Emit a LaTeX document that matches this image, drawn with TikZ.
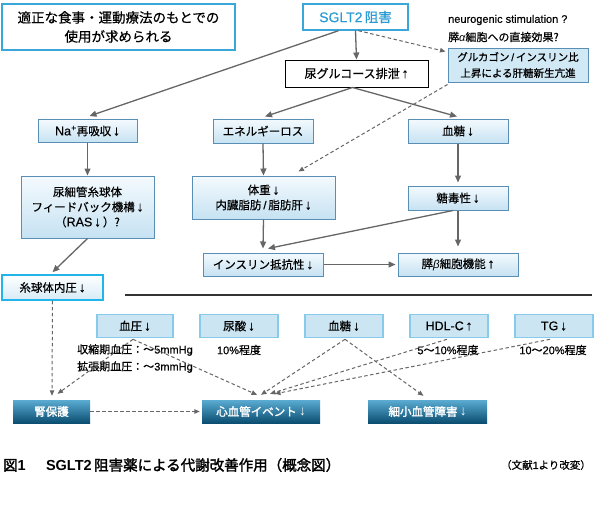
\documentclass[tikz,border=0pt]{standalone}
\usepackage{fontspec}
\setmainfont{Noto Sans CJK JP}[UprightFeatures={FakeBold=0.5}, BoldFont={Noto Sans CJK JP}, BoldFeatures={FakeBold=2}]
\newfontfamily\lat{Liberation Sans}[UprightFeatures={FakeBold=0.4}]
\newfontfamily\latb{Liberation Sans}[UprightFeatures={FakeBold=1.8}]
\newcommand{\myDn}{\,{\lat\fontsize{13.5}{14}\selectfont ↓}}
\newcommand{\myUp}{\,{\lat\fontsize{13.5}{14}\selectfont ↑}}
\usetikzlibrary{arrows.meta,calc}
\definecolor{arrowgray}{HTML}{666666}
\definecolor{boxedge}{HTML}{5A8FB5}
\definecolor{boxtop}{HTML}{F4FAFE}
\definecolor{boxbot}{HTML}{C6E2F2}
\definecolor{cyanedge}{HTML}{3AA6DA}
\definecolor{sgltxt}{HTML}{2B9BD3}
\definecolor{flatfill}{HTML}{CBE5F3}
\definecolor{flatedge}{HTML}{86CBEB}
\definecolor{darktop}{HTML}{5AABD2}
\definecolor{darkbot}{HTML}{0B4E72}
\definecolor{glomedge}{HTML}{22B5EC}
\tikzset{
  lbox/.style={draw=boxedge, line width=1pt, top color=boxtop, bottom color=boxbot,
    font=\fontsize{11.5}{15}\selectfont, align=center, inner sep=1pt},
  flatbox/.style={draw=flatedge, line width=1.6pt, fill=flatfill,
    font=\fontsize{11.5}{14}\selectfont, align=center, inner sep=1pt,
    minimum width=76pt, minimum height=23pt},
  darkbox/.style={draw=none, top color=darktop, bottom color=darkbot, text=white,
    font=\fontsize{11.5}{14}\selectfont\bfseries, align=center, inner sep=1pt,
    minimum height=23pt},
  plain/.style={font=\fontsize{11}{14}\selectfont, inner sep=0pt},
  arr/.style={draw=arrowgray, line width=1.3pt, -{Triangle[length=7pt,width=6pt]}},
  darr/.style={draw=arrowgray, line width=1pt, dash pattern=on 3.5pt off 2.5pt,
    -{Triangle[length=5.5pt,width=4.5pt]}}
}
\begin{document}
\begin{tikzpicture}[x=1pt,y=-1pt]
\useasboundingbox (0,0) rectangle (595,504);
% top row
\node[draw=cyanedge, line width=1.6pt, fill=white, minimum width=233pt, minimum height=46pt,
  align=center, font=\fontsize{13.5}{19}\selectfont, inner sep=0pt]
  (note) at (118.5,27) {適正な食事・運動療法のもとでの\\使用が求められる};
\node[draw=cyanedge, line width=1.4pt, fill=white, minimum width=105pt, minimum height=26pt,
  text=sgltxt, font=\fontsize{13.5}{15}\selectfont, inner sep=0pt]
  (sglt) at (355.5,17) {{\lat\fontsize{14}{15}\selectfont SGLT2}\,阻害};
\node[plain, anchor=west, font=\lat\fontsize{11}{14}\selectfont] (neuro) at (448,20) {neurogenic stimulation ?};
\node[plain, anchor=west] (alpha) at (448,37) {膵{\lat\itshape α}細胞への直接効果?};
\node[draw=boxedge, line width=1pt, fill=boxbot!80!white, minimum width=140pt, minimum height=34pt,
  align=center, font=\fontsize{10.5}{16}\selectfont, inner sep=0pt]
  (gluc) at (518,65) {グルカゴン{\lat\,/\,}インスリン比\\上昇による肝糖新生亢進};
\node[draw=black, line width=1pt, fill=white, minimum width=143pt, minimum height=27pt,
  font=\fontsize{12}{14}\selectfont, inner sep=0pt]
  (urine) at (356.5,73.5) {尿グルコース排泄\myUp};
% second row
\node[lbox, minimum width=99pt, minimum height=23pt] (na) at (87.5,131) {{\lat\fontsize{12.5}{14}\selectfont Na\textsuperscript{+}}再吸収\myDn};
\node[lbox, minimum width=100pt, minimum height=24pt] (energy) at (263,131) {エネルギーロス};
\node[lbox, minimum width=100pt, minimum height=24pt] (bgone) at (458,131) {血糖\myDn};
\node[lbox, minimum width=133pt, minimum height=62pt] (tub) at (87.5,207) {尿細管糸球体\\フィードバック機構\myDn\\（{\lat\fontsize{12.5}{14}\selectfont RAS}\myDn\,）?};
\node[lbox, minimum width=143pt, minimum height=43pt] (weight) at (263.5,197.5) {体重\myDn\\内臓脂肪{\lat\,/\,}脂肪肝\myDn};
\node[lbox, minimum width=100pt, minimum height=24pt] (gtox) at (458,198) {糖毒性\myDn};
\node[lbox, minimum width=120pt, minimum height=23pt] (insres) at (263,264.5) {インスリン抵抗性\myDn};
\node[lbox, minimum width=120pt, minimum height=23pt] (beta) at (458,264.5) {膵{\lat\itshape β}細胞機能\myUp};
\node[lbox, draw=glomedge, line width=1.6pt, top color=white, bottom color=boxbot!70!white,
  minimum width=101pt, minimum height=25pt] (glom) at (52.5,287.5) {糸球体内圧\myDn};
% separator
\coordinate (hl) at (125,295);
\coordinate (hr) at (592,295);
\draw[line width=1.5pt, black!80] (hl) -- (hr);
% bottom row
\node[flatbox] (bp) at (135,326) {血圧\myDn};
\node[flatbox, minimum width=78pt] (ua) at (239,326) {尿酸\myDn};
\node[flatbox, minimum width=78pt] (bgtwo) at (344,326) {血糖\myDn};
\node[flatbox, minimum width=78pt] (hdl) at (449,326) {{\lat\fontsize{12.5}{14}\selectfont HDL-C}\myUp};
\node[flatbox, minimum width=78pt] (tg) at (554,326) {{\lat\fontsize{12.5}{14}\selectfont TG}\myDn};
\node[plain] (sys) at (135,350) {収縮期血圧：～{\lat 5mmHg}};
\node[plain] (dia) at (135,367) {拡張期血圧：～{\lat 3mmHg}};
\node[plain] (uap) at (239,350) {{\lat 10\%}程度};
\node[plain] (hdlp) at (448,350) {{\lat 5}～{\lat 10\%}程度};
\node[plain] (tgp) at (553,350) {{\lat 10}～{\lat 20\%}程度};
\node[darkbox, minimum width=77pt] (renal) at (51.5,411.5) {腎保護};
\node[darkbox, minimum width=118pt] (cv) at (261,411.5) {心血管イベント{\latb\fontsize{13.5}{14}\selectfont\,↓}};
\node[darkbox, minimum width=119pt] (micro) at (427.5,411.5) {細小血管障害{\latb\fontsize{13.5}{14}\selectfont\,↓}};
% caption
\node[anchor=west, inner sep=0pt, font=\fontsize{14.5}{16}\selectfont\bfseries] (cap) at (3,465)
  {図{\latb 1}\hspace{1.4em}{\latb SGLT2}\,阻害薬による代謝改善作用（概念図）};
\node[anchor=east, inner sep=0pt, font=\fontsize{10.5}{12}\selectfont] (src) at (591,465) {（文献{\lat 1}より改変）};
% solid arrows
\draw[arr] ($(sglt.south)+(-17,0)$) -- ($(na.north)+(2,-3)$);
\draw[arr] (sglt.south) -- (urine.north);
\draw[arr] ($(urine.south)+(-4,0)$) -- ($(energy.north)+(2,-2)$);
\draw[arr] ($(urine.south)+(-4,0)$) -- ($(bgone.north)+(-1,-2)$);
\draw[arr] (na.south) -- (tub.north);
\draw[arr] (energy.south) -- (weight.north);
\draw[arr] (bgone.south) -- ($(gtox.north)+(0,-3)$);
\draw[arr] (weight.south) -- ($(insres.north)+(0,-4)$);
\draw[arr] ($(gtox.south)+(-5,0)$) -- ($(insres.north)+(5,-4)$);
\draw[arr] (gtox.south) -- ($(beta.north)+(0,-6)$);
\draw[arr] (insres.east) -- ($(beta.west)+(-2,0)$);
\draw[arr] ($(tub.south)+(0,0)$) -- ($(glom.north)+(0,-2)$);
% dashed arrows (top)
\draw[darr] ($(sglt.south)+(3,0)$) -- ($(gluc.north west)+(-2,4)$);
\draw[darr] ($(gluc.south west)+(0,2)$) -- ($(weight.north)+(35,-4)$);
% dashed arrows (bottom)
\draw[darr] (glom.south) -- ($(renal.north)+(0.5,-4)$);
\draw[darr] ($(bp.south)+(-2,1)$) -- ($(renal.north)+(6,-6)$);
\draw[darr] ($(bp.south)+(-2,1)$) -- ($(cv.north)+(-4,-5)$);
\draw[darr] (renal.east) -- ($(cv.west)+(-2,0)$);
\draw[darr] ($(bgtwo.south)+(1,1)$) -- ($(cv.north)+(0,-5)$);
\draw[darr] ($(bgtwo.south)+(1,1)$) -- ($(micro.north)+(-4,-4)$);
\draw[darr] ($(hdl.south)+(-2,1)$) -- ($(cv.north)+(9,-6)$);
\draw[darr] ($(tg.south)+(-4,1)$) -- ($(cv.north)+(14,-6)$);
\end{tikzpicture}
\end{document}
